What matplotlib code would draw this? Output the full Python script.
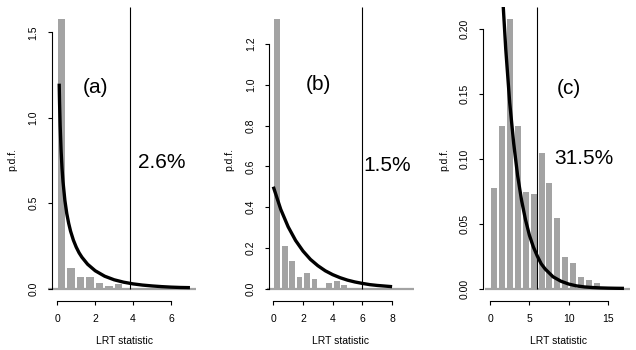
import numpy as np
import matplotlib
matplotlib.use("Agg")
import matplotlib.pyplot as plt

plt.rcParams['font.family'] = ['Liberation Sans', 'DejaVu Sans']

# histogram heights (bins start at 0)
bin_width_a = 0.5
hist_a = [1.58, 0.118, 0.069, 0.069, 0.030, 0.016, 0.028]
bin_width_b = 0.5
hist_b = [1.324, 0.207, 0.136, 0.056, 0.076, 0.046, 0.003, 0.026, 0.038, 0.015]
bin_width_c = 1.0
hist_c = [0.077, 0.125, 0.207, 0.125, 0.074, 0.073, 0.104, 0.081, 0.054,
          0.024, 0.020, 0.009, 0.0064, 0.0043]

# fitted densities
curve_a_x = [0.1, 0.12, 0.15, 0.2, 0.25, 0.3, 0.4, 0.5, 0.6, 0.7, 0.85, 1.0, 1.15,
             1.3, 1.6, 2.0, 2.5, 3.0, 3.5, 4.0, 4.5, 5.0, 5.5, 6.0, 6.5, 7.0]
curve_a_y = [1.200, 1.085, 0.956, 0.807, 0.704, 0.627, 0.516, 0.439, 0.382, 0.336,
             0.283, 0.242, 0.209, 0.183, 0.142, 0.104, 0.072, 0.051, 0.037, 0.027,
             0.020, 0.015, 0.011, 0.008, 0.006, 0.005]
curve_b_x = [0, 0.5, 1, 1.5, 2, 2.5, 3, 3.5, 4, 4.5, 5, 5.5, 6, 6.5, 7, 7.5, 8]
curve_b_y = [0.5, 0.389, 0.303, 0.236, 0.184, 0.143, 0.112, 0.087, 0.068, 0.053,
             0.041, 0.032, 0.025, 0.019, 0.015, 0.012, 0.009]
curve_c_x = [1.6, 2, 2.5, 3, 3.5, 4, 4.5, 5, 5.5, 6, 6.5, 7, 7.5, 8, 9, 10, 11,
             12, 13, 14, 15, 16, 17]
curve_c_y = [0.225, 0.184, 0.143, 0.112, 0.087, 0.068, 0.053, 0.041, 0.032, 0.025,
             0.019, 0.015, 0.012, 0.009, 0.0056, 0.0034, 0.0020, 0.0012, 0.00075,
             0.00046, 0.00028, 0.00017, 0.0001]

cutoffs = [3.84, 5.99, 5.99]
panel_tags = ["(a)", "(b)", "(c)"]
percents = ["2.6%", "1.5%", "31.5%"]
xticks = [[0, 2, 4, 6], [0, 2, 4, 6, 8], [0, 5, 10, 15]]
yticks = [[0.0, 0.5, 1.0, 1.5], [0.0, 0.2, 0.4, 0.6, 0.8, 1.0, 1.2],
          [0.00, 0.05, 0.10, 0.15, 0.20]]
ytick_fmt = ["{:.1f}", "{:.1f}", "{:.2f}"]

W, H = 636, 350
fig = plt.figure(figsize=(W / 100, H / 100), dpi=100)
bar_col = "#a3a3a3"

# pixel layout: spine x, x of data zero, px per unit, right edge, y px per unit
layout = [
    dict(spine=51.7, x0=57.3, xs=18.95, right=200, ys=170.7, off=0.02, bw=0.40, base=(-0.47, 7.32)),
    dict(spine=269.0, x0=273.3, xs=14.85, right=416, ys=203.6, off=0.08, bw=0.38, base=(-0.45, 9.45)),
    dict(spine=483.3, x0=490.0, xs=7.88, right=632, ys=1300.0, off=0.16, bw=0.77, base=(-0.63, 17.8)),
]
y0px, bottom_px, top_px = 288.5, 300.5, 7.0

hists = [hist_a, hist_b, hist_c]
widths = [bin_width_a, bin_width_b, bin_width_c]
curves = [(curve_a_x, curve_a_y), (curve_b_x, curve_b_y), (curve_c_x, curve_c_y)]
label_x = [12.5, 229, 443.8]
xlabel_x = [124.2, 340, 558]
tag_pos = [(95, 87.5), (318, 85), (568.5, 89)]
pct_pos = [(161.7, 162.5), (387.5, 165.5), (584.3, 158)]

for i in range(3):
    L = layout[i]
    ax = fig.add_axes([L['spine'] / W, 1 - bottom_px / H,
                       (L['right'] - L['spine']) / W, (bottom_px - top_px) / H])
    ax.set_xlim((L['spine'] - L['x0']) / L['xs'], (L['right'] - L['x0']) / L['xs'])
    ax.set_ylim((y0px - bottom_px) / L['ys'], (y0px - top_px) / L['ys'])
    ax.patch.set_alpha(0)

    h = hists[i]
    lefts = np.arange(len(h)) * widths[i] + L['off']
    ax.bar(lefts, h, width=L['bw'], align='edge', color=bar_col, linewidth=0, zorder=1)
    ax.hlines(0, L['base'][0], L['base'][1], color=bar_col, lw=1.6, clip_on=False, zorder=1)
    ax.vlines(cutoffs[i], 0, ax.get_ylim()[1], color='black', lw=0.8, zorder=2)
    cx, cy = curves[i]
    ax.plot(cx, cy, color='black', lw=2.4, solid_capstyle='butt', zorder=3)

    for s in ['top', 'right']:
        ax.spines[s].set_visible(False)
    ax.spines['left'].set_bounds(yticks[i][0], yticks[i][-1])
    ax.spines['bottom'].set_bounds(xticks[i][0], xticks[i][-1])
    ax.spines['left'].set_linewidth(0.8)
    ax.spines['bottom'].set_linewidth(0.8)
    ax.set_xticks(xticks[i])
    ax.set_xticklabels([str(t) for t in xticks[i]])
    ax.set_yticks(yticks[i])
    ax.set_yticklabels([ytick_fmt[i].format(t) for t in yticks[i]], rotation=90, va='center')
    ax.tick_params(direction='out', length=3, width=0.8, labelsize=7.5)
    ax.tick_params(axis='x', pad=6.5)
    ax.tick_params(axis='y', pad=6.5)

    fig.text(label_x[i] / W, 1 - 160 / H, "p.d.f.", rotation=90, ha='center', va='center', fontsize=7.5)
    fig.text(xlabel_x[i] / W, 1 - 341 / H, "LRT statistic", ha='center', va='center', fontsize=7.5)
    fig.text(tag_pos[i][0] / W, 1 - tag_pos[i][1] / H, panel_tags[i], ha='center', va='center', fontsize=15)
    fig.text(pct_pos[i][0] / W, 1 - pct_pos[i][1] / H, percents[i], ha='center', va='center', fontsize=15)

fig.savefig("out.png", dpi=100)
